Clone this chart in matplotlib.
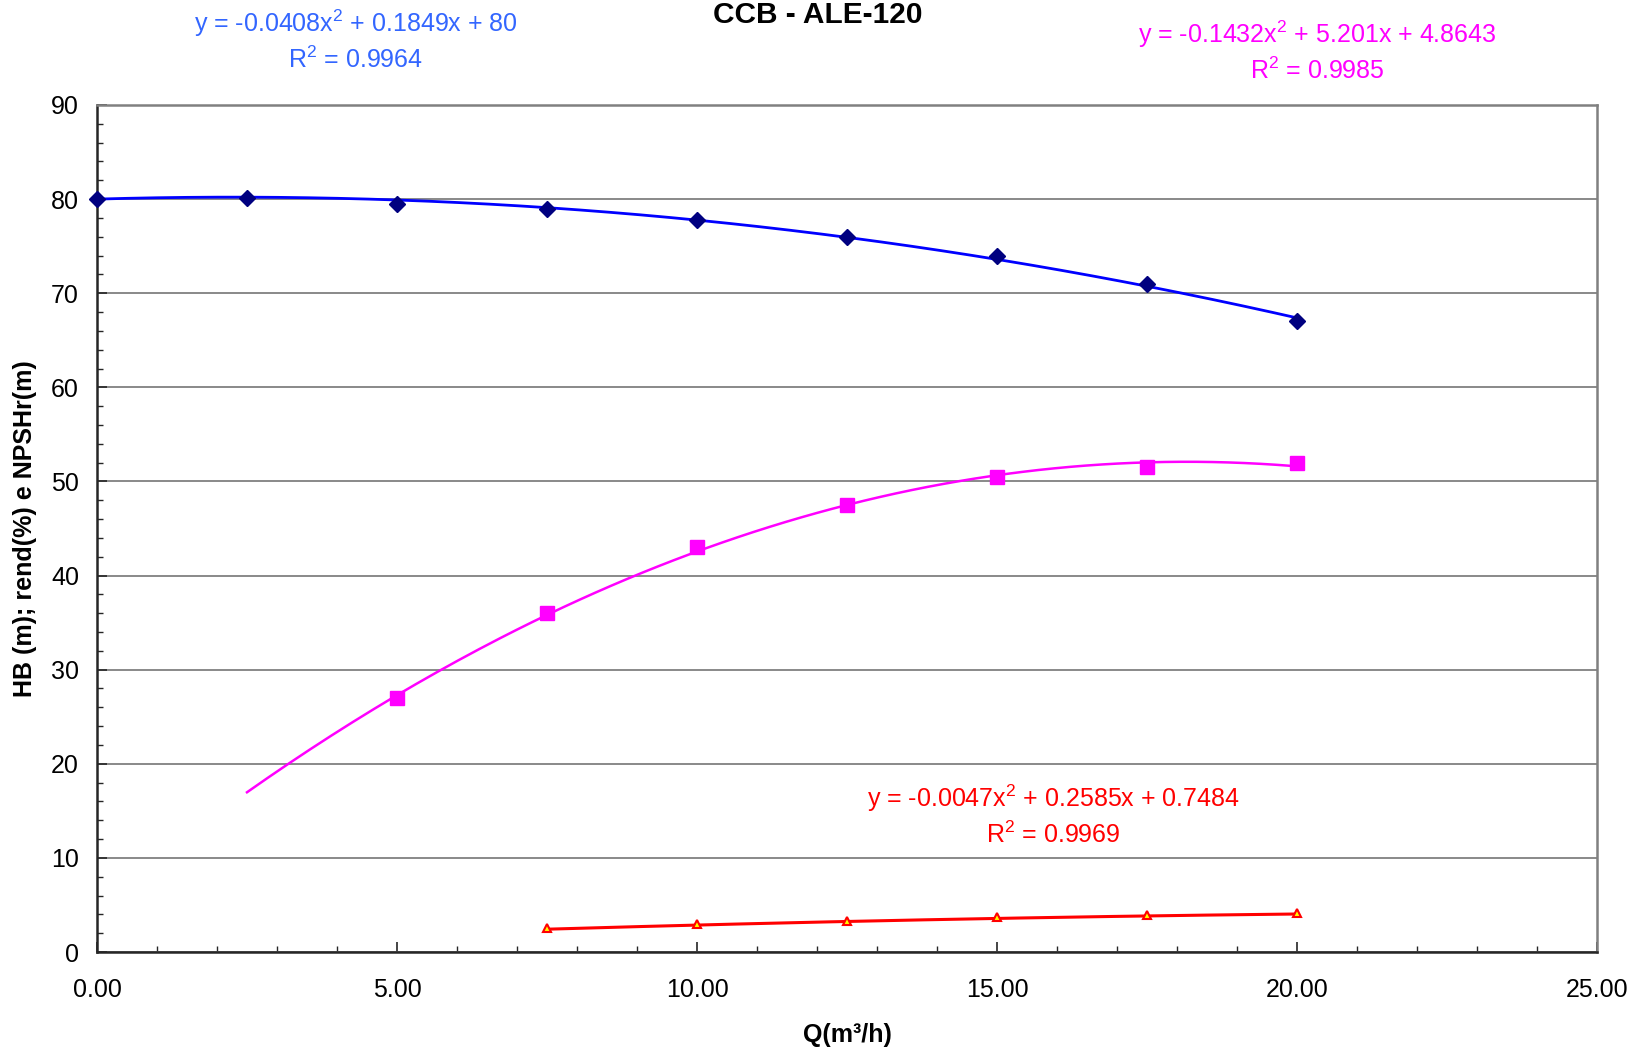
import numpy as np
import matplotlib
matplotlib.use("Agg")
import matplotlib.pyplot as plt
from matplotlib.ticker import MultipleLocator, FormatStrFormatter

plt.rcParams['font.family'] = ['Liberation Sans', 'DejaVu Sans']
plt.rcParams['mathtext.fontset'] = 'custom'
plt.rcParams['mathtext.rm'] = 'Liberation Sans'
plt.rcParams['mathtext.default'] = 'regular'

title = "CCB - ALE-120"
xlabel = "Q(m³/h)"
ylabel = "HB (m); rend(%) e NPSHr(m)"

# Data
q_hb = [0.0, 2.5, 5.0, 7.5, 10.0, 12.5, 15.0, 17.5, 20.0]
hb = [80.0, 80.1, 79.5, 79.0, 77.8, 76.0, 74.0, 71.0, 67.0]

q_rend = [5.0, 7.5, 10.0, 12.5, 15.0, 17.5, 20.0]
rend = [27.0, 36.0, 43.0, 47.5, 50.5, 51.5, 52.0]

q_npsh = [7.5, 10.0, 12.5, 15.0, 17.5, 20.0]
npsh = [2.5, 3.0, 3.3, 3.7, 3.9, 4.1]

# Trendline coefficients (as printed on chart)
coef_hb = [-0.0408, 0.1849, 80.0]
coef_rend = [-0.1432, 5.201, 4.8643]
coef_npsh = [-0.0047, 0.2585, 0.7484]
r2_hb, r2_rend, r2_npsh = "0.9964", "0.9985", "0.9969"
trend_range_hb = (0.0, 20.0)
trend_range_rend = (2.5, 20.0)
trend_range_npsh = (7.5, 20.0)

W, H = 1642, 1049
fig = plt.figure(figsize=(W / 100, H / 100), dpi=100)
ax = fig.add_axes([97 / W, 1 - 952 / H, 1500 / W, 847 / H])

ax.set_xlim(0, 25)
ax.set_ylim(0, 90)

ax.yaxis.set_major_locator(MultipleLocator(10))
ax.yaxis.set_minor_locator(MultipleLocator(2))
ax.xaxis.set_major_locator(MultipleLocator(5))
ax.xaxis.set_minor_locator(MultipleLocator(1))
ax.xaxis.set_major_formatter(FormatStrFormatter('%.2f'))
ax.grid(axis='y', which='major', color='#808080', linewidth=1.3, zorder=0)
ax.set_axisbelow(True)

def trend(coef, rng):
    xs = np.linspace(rng[0], rng[1], 200)
    return xs, np.polyval(coef, xs)

xs, ys = trend(coef_hb, trend_range_hb)
ax.plot(xs, ys, color='#0000FF', linewidth=2.0, zorder=3, clip_on=False)
ax.plot(q_hb, hb, linestyle='none', marker='D', markersize=8.5,
        color='#000080', zorder=4, clip_on=False)

xs, ys = trend(coef_rend, trend_range_rend)
ax.plot(xs, ys, color='#FF00FF', linewidth=1.8, zorder=3)
ax.plot(q_rend, rend, linestyle='none', marker='s', markersize=9.5,
        color='#FF00FF', zorder=4)

xs, ys = trend(coef_npsh, trend_range_npsh)
ax.plot(xs, ys, color='#FF0000', linewidth=2.2, zorder=3)
ax.plot(q_npsh, npsh, linestyle='none', marker='^', markersize=6,
        markerfacecolor='#FFFF00', markeredgecolor='#FF0000',
        markeredgewidth=1.5, zorder=4)

for s in ['left', 'bottom']:
    ax.spines[s].set_color('#262626')
    ax.spines[s].set_linewidth(1.8)
for s in ['top', 'right']:
    ax.spines[s].set_color('#808080')
    ax.spines[s].set_linewidth(1.8)

ax.tick_params(axis='both', which='major', direction='in', length=7,
               width=1.2, color='#262626', labelsize=18)
ax.tick_params(axis='both', which='minor', direction='in', length=4,
               width=1.0, color='#262626')
ax.tick_params(axis='x', which='major', pad=19)
ax.tick_params(axis='y', which='major', pad=13)
ax.tick_params(top=False, right=False, which='both')

ax.set_xlabel(xlabel, fontsize=18, fontweight='bold', labelpad=15)
ax.set_ylabel(ylabel, fontsize=18, fontweight='bold', labelpad=10)

fig.text(818 / W, 1 - 15 / H, title, fontsize=21.5, fontweight='bold',
         ha='center', va='center')

def eq_text(coef, r2):
    a, b, c = coef
    s1 = 'y = %gx$^{2}$ + %gx + %g' % (a, b, c)
    s2 = 'R$^{2}$ = %s' % r2
    return s1, s2

def place(coef, r2, cx, y1, y2, color):
    s1, s2 = eq_text(coef, r2)
    fig.text(cx / W, 1 - y1 / H, s1, fontsize=18, color=color,
             ha='center', va='center')
    fig.text(cx / W, 1 - y2 / H, s2, fontsize=18, color=color,
             ha='center', va='center')

place(coef_hb, r2_hb, 356, 23, 60, '#3366FF')
place(coef_rend, r2_rend, 1317, 34, 71, '#FF00FF')
place(coef_npsh, r2_npsh, 1053, 798, 835, '#FF0000')

fig.savefig('out.png', dpi=100, facecolor='white')
